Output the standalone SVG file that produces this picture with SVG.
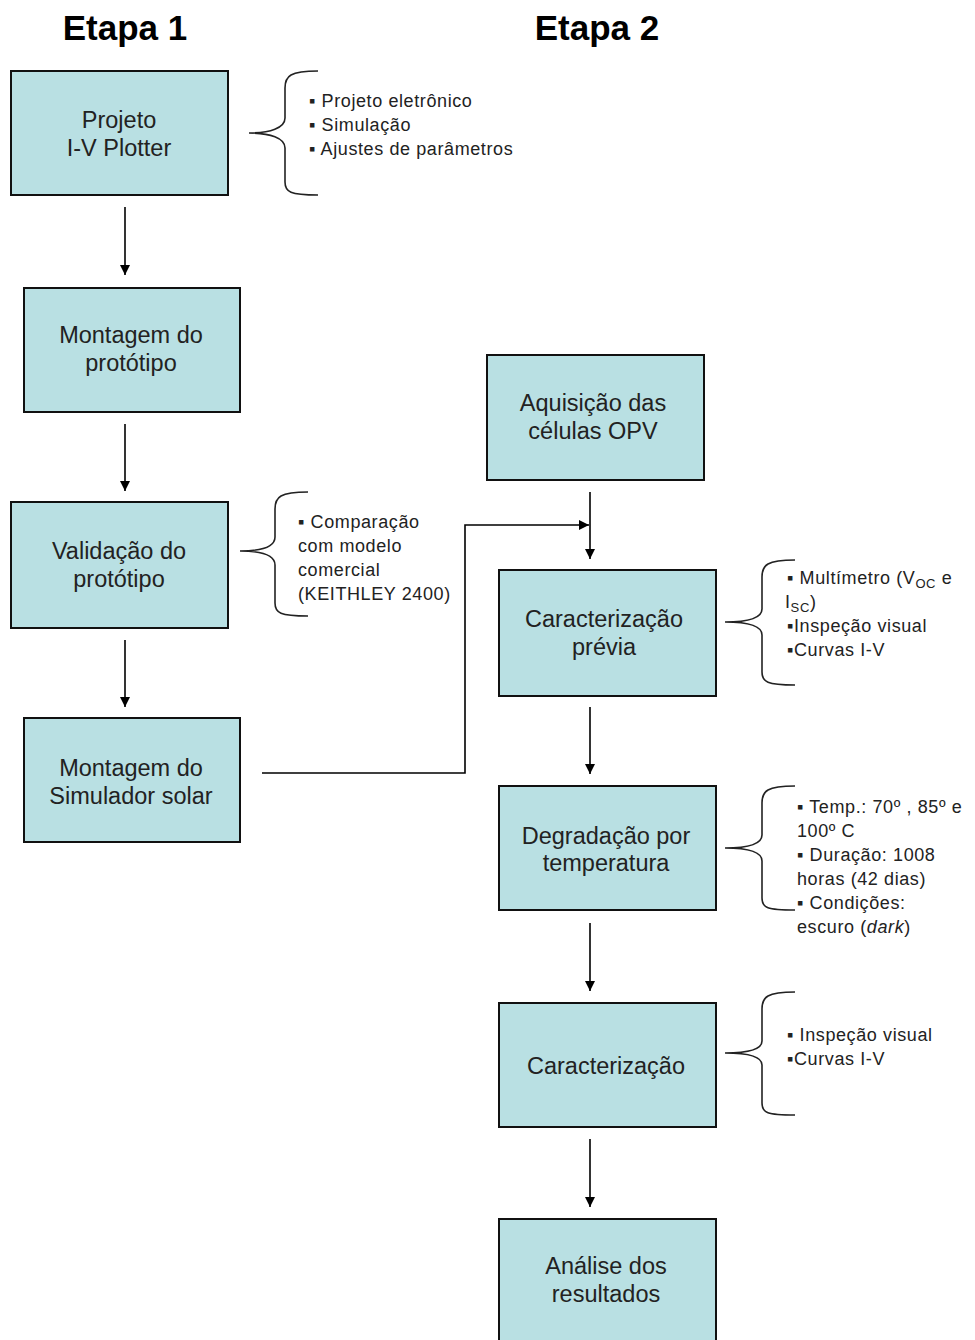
<svg xmlns="http://www.w3.org/2000/svg" width="975" height="1340" viewBox="0 0 975 1340">
<defs>
<marker id="ah" markerWidth="12" markerHeight="12" refX="10" refY="5" orient="auto" markerUnits="userSpaceOnUse">
<path d="M0,0 L10,5 L0,10 Z" fill="#000"/>
</marker>
<style>
.box{fill:#b9e0e3;stroke:#111;stroke-width:2}
.lbl{font-family:"Liberation Sans",Arial,sans-serif;font-size:23.5px;fill:#222;text-anchor:middle}
.note{font-family:"Liberation Sans",Arial,sans-serif;font-size:18px;letter-spacing:0.6px;fill:#222}
.hd{font-family:"Liberation Sans",Arial,sans-serif;font-size:35px;font-weight:bold;fill:#000;text-anchor:middle}
.br{fill:none;stroke:#222;stroke-width:1.6}
.cn{fill:none;stroke:#000;stroke-width:1.6}
</style>
</defs>
<rect width="975" height="1340" fill="#fff"/>
<text class="hd" x="125" y="40">Etapa 1</text>
<text class="hd" x="597" y="40">Etapa 2</text>

<g id="n1"><rect class="box" x="11" y="71" width="217" height="124"/><text class="lbl" x="119" y="128">Projeto</text><text class="lbl" x="119" y="156">I-V Plotter</text></g>
<g id="n2"><rect class="box" x="24" y="288" width="216" height="124"/><text class="lbl" x="131" y="343">Montagem do</text><text class="lbl" x="131" y="371">protótipo</text></g>
<g id="n3"><rect class="box" x="11" y="502" width="217" height="126"/><text class="lbl" x="119" y="559">Validação do</text><text class="lbl" x="119" y="587">protótipo</text></g>
<g id="n4"><rect class="box" x="24" y="718" width="216" height="124"/><text class="lbl" x="131" y="776">Montagem do</text><text class="lbl" x="131" y="804">Simulador solar</text></g>
<g id="n5"><rect class="box" x="487" y="355" width="217" height="125"/><text class="lbl" x="593" y="411">Aquisição das</text><text class="lbl" x="593" y="439">células OPV</text></g>
<g id="n6"><rect class="box" x="499" y="570" width="217" height="126"/><text class="lbl" x="604" y="627">Caracterização</text><text class="lbl" x="604" y="655">prévia</text></g>
<g id="n7"><rect class="box" x="499" y="786" width="217" height="124"/><text class="lbl" x="606" y="844">Degradação por</text><text class="lbl" x="606" y="871">temperatura</text></g>
<g id="n8"><rect class="box" x="499" y="1003" width="217" height="124"/><text class="lbl" x="606" y="1074">Caracterização</text></g>
<g id="n9"><rect class="box" x="499" y="1219" width="217" height="130"/><text class="lbl" x="606" y="1274">Análise dos</text><text class="lbl" x="606" y="1302">resultados</text></g>

<g id="connectors">
<line class="cn" x1="125" y1="207" x2="125" y2="275" marker-end="url(#ah)"/>
<line class="cn" x1="125" y1="424" x2="125" y2="491" marker-end="url(#ah)"/>
<line class="cn" x1="125" y1="640" x2="125" y2="707" marker-end="url(#ah)"/>
<line class="cn" x1="590" y1="492" x2="590" y2="559" marker-end="url(#ah)"/>
<line class="cn" x1="590" y1="707" x2="590" y2="774" marker-end="url(#ah)"/>
<line class="cn" x1="590" y1="923" x2="590" y2="991" marker-end="url(#ah)"/>
<line class="cn" x1="590" y1="1139" x2="590" y2="1207" marker-end="url(#ah)"/>
<polyline class="cn" points="262,773 465,773 465,525 589,525" marker-end="url(#ah)"/>
</g>

<g id="notes">
<path class="br" d="M318,71 C290,71 285,76 285,88 L285,118 C285,128 270,133 249,133 C270,133 285,138 285,148 L285,182 C285,192 290,195 318,195"/>
<text class="note" x="309" y="107">▪ Projeto eletrônico</text>
<text class="note" x="309" y="131">▪ Simulação</text>
<text class="note" x="309" y="155">▪ Ajustes de parâmetros</text>

<path class="br" d="M308,492 C280,492 275,497 275,509 L275,537 C275,547 260,551 240,551 C260,551 275,555 275,565 L275,603 C275,613 280,616 308,616"/>
<text class="note" x="298" y="528">▪ Comparação</text>
<text class="note" x="298" y="552">com modelo</text>
<text class="note" x="298" y="576">comercial</text>
<text class="note" x="298" y="600">(KEITHLEY 2400)</text>

<path class="br" d="M795,560 C767,560 762,565 762,577 L762,609 C762,618 747,622 725,622 C747,622 762,626 762,635 L762,672 C762,682 767,685 795,685"/>
<text class="note" x="787" y="584">▪ Multímetro (V<tspan font-size="13" dy="4">OC</tspan><tspan dy="-4"> e</tspan></text>
<text class="note" x="785" y="608">I<tspan font-size="13" dy="4">SC</tspan><tspan dy="-4">)</tspan></text>
<text class="note" x="787" y="632">▪Inspeção visual</text>
<text class="note" x="787" y="656">▪Curvas I-V</text>

<path class="br" d="M795,786 C767,786 762,791 762,803 L762,835 C762,844 747,848 725,848 C747,848 762,852 762,861 L762,898 C762,908 767,910 795,910"/>
<text class="note" x="797" y="813">▪ Temp.: 70º , 85º e</text>
<text class="note" x="797" y="837">100º C</text>
<text class="note" x="797" y="861">▪ Duração: 1008</text>
<text class="note" x="797" y="885">horas (42 dias)</text>
<text class="note" x="797" y="909">▪ Condições:</text>
<text class="note" x="797" y="933">escuro (<tspan font-style="italic">dark</tspan>)</text>

<path class="br" d="M795,992 C767,992 762,997 762,1009 L762,1041 C762,1050 747,1053 725,1053 C747,1053 762,1056 762,1065 L762,1103 C762,1113 767,1115 795,1115"/>
<text class="note" x="787" y="1041">▪ Inspeção visual</text>
<text class="note" x="787" y="1065">▪Curvas I-V</text>
</g>
</svg>
